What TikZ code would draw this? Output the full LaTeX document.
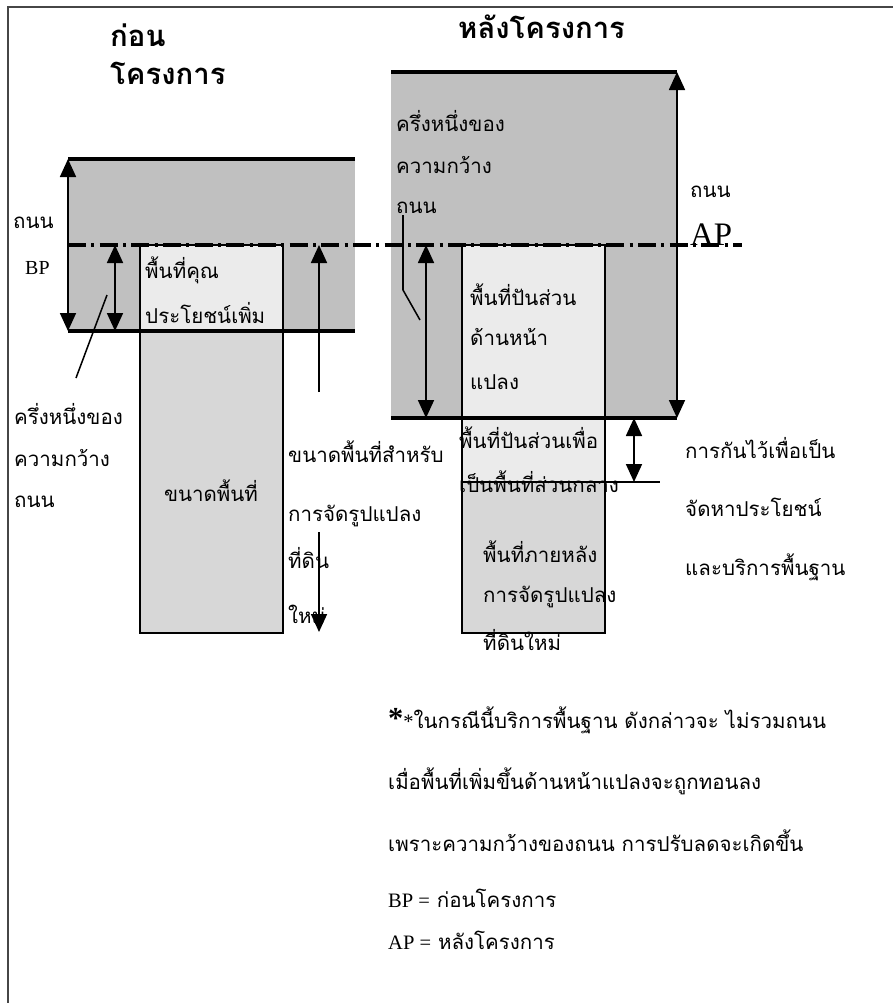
\documentclass[tikz,border=0pt]{standalone}
\usepackage{fontspec}
\setmainfont{Liberation Serif}
\newfontfamily\thaifont[Script=Thai]{Loma}
\usetikzlibrary{arrows.meta}
\usetikzlibrary{positioning}
\definecolor{roadgray}{RGB}{192,192,192}
\definecolor{parcellight}{RGB}{235,235,235}
\definecolor{parcelmid}{RGB}{215,215,215}
\definecolor{framegray}{RGB}{70,70,70}

\begin{document}
\begin{tikzpicture}[x=0.03cm,y=-0.03cm,
    road/.style={fill=roadgray},
    parcel/.style={draw=black,line width=1.2pt},
    edge/.style={line width=2.6pt},
    axisline/.style={line width=2.8pt,dash pattern=on 5.4mm off 1.6mm on 0.9mm off 1.6mm},
    dim/.style={line width=1.5pt,{Triangle[length=5.4mm,width=4.8mm]}-{Triangle[length=5.4mm,width=4.8mm]}},
    ptr/.style={line width=1.5pt,-{Triangle[length=5.4mm,width=4.8mm]}},
    lead/.style={line width=1.3pt},
    txt/.style={font=\thaifont\fontsize{17.5}{20}\selectfont,anchor=west,inner sep=0pt},
    head/.style={font=\thaifont\bfseries\fontsize{25}{28}\selectfont,anchor=west,inner sep=0pt}]
    \useasboundingbox (0,0) rectangle (893,1003);
    \draw[framegray,line width=1.5pt] (8,1003) -- (8,7) -- (893,7);

    % before the project
    \fill[road] (68,159) rectangle (355,331);
    \draw[parcel,fill=parcellight] (140,245) rectangle (283,331);
    \draw[parcel,fill=parcelmid] (140,331) rectangle (283,633);
    \draw[edge] (68,159) -- (355,159);
    \draw[edge] (68,331) -- (355,331);

    % after the project
    \fill[road] (391,72) rectangle (677,418);
    \draw[parcel,fill=parcellight] (462,245) rectangle (605,418);
    \draw[parcel,fill=parcellight] (462,418) rectangle (605,482);
    \draw[parcel,fill=parcelmid] (462,482) rectangle (605,633);
    \draw[edge] (391,72) -- (677,72);
    \draw[edge] (391,418) -- (677,418);

    % road centre line
    \coordinate (axisL) at (68,245);
    \coordinate (axisR) at (742,245);
    \draw[axisline] (axisL) -- (axisR);

    % dimension arrows
    \coordinate (bpRoadT) at (68,159);
    \coordinate (bpRoadB) at (68,331);
    \coordinate (bpHalfT) at (115,245);
    \coordinate (bpHalfB) at (115,331);
    \coordinate (bpSizeT) at (319,245);
    \coordinate (bpSizeA) at (319,392);
    \coordinate (bpSizeB) at (319,532);
    \coordinate (bpSizeE) at (319,632);
    \coordinate (bpLeadA) at (107,295);
    \coordinate (bpLeadB) at (76,378);
    \draw[dim] (bpRoadT) -- (bpRoadB);
    \draw[dim] (bpHalfT) -- (bpHalfB);
    \draw[ptr] (bpSizeA) -- (bpSizeT);
    \draw[ptr] (bpSizeB) -- (bpSizeE);
    \draw[lead] (bpLeadA) -- (bpLeadB);

    \coordinate (apRoadT) at (677,72);
    \coordinate (apRoadB) at (677,418);
    \coordinate (apHalfT) at (426,245);
    \coordinate (apHalfB) at (426,418);
    \coordinate (apCommT) at (634,418);
    \coordinate (apCommB) at (634,482);
    \coordinate (apCommS) at (462,482);
    \coordinate (apCommE) at (660,482);
    \coordinate (apLeadA) at (403,215);
    \coordinate (apLeadB) at (403,290);
    \coordinate (apLeadC) at (420,320);
    \draw[dim] (apRoadT) -- (apRoadB);
    \draw[dim] (apHalfT) -- (apHalfB);
    \draw[dim] (apCommT) -- (apCommB);
    \draw[line width=1.3pt] (apCommS) -- (apCommE);
    \draw[lead] (apLeadA) -- (apLeadB) -- (apLeadC);

    % headings
    \node[head] (bpHead1) at (110,35) {ก่อน};
    \node[head] (bpHead2) at (110,73) {โครงการ};
    \node[head] (apHead) at (458,27) {หลังโครงการ};

    % labels, before
    \node[txt] (bpRoad) at (13,223) {ถนน};
    \node[anchor=west,inner sep=0pt,font=\fontsize{17}{20}\selectfont] (bpTag) at (25,268) {BP};
    \node[txt] (bpHalf1) at (14,414) {ครึ่งหนึ่งของ};
    \node[txt] (bpHalf2) at (14,458) {ความกว้าง};
    \node[txt] (bpHalf3) at (14,502) {ถนน};
    \node[txt] (bpGain1) at (145,270) {พื้นที่คุณ};
    \node[txt] (bpGain2) at (145,313) {ประโยชน์เพิ่ม};
    \node[txt,anchor=center] (bpSize) at (211,491) {ขนาดพื้นที่};
    \node[txt] (bpNew1) at (288,452) {ขนาดพื้นที่สำหรับ};
    \node[txt] (bpNew2) at (288,516) {การจัดรูปแปลง};
    \node[txt] (bpNew3) at (288,558) {ที่ดิน};
    \node[txt] (bpNew4) at (288,614) {ใหม่};

    % labels, after
    \node[txt] (apHalf1) at (396,121) {ครึ่งหนึ่งของ};
    \node[txt] (apHalf2) at (396,165) {ความกว้าง};
    \node[txt] (apHalf3) at (396,208) {ถนน};
    \node[txt] (apRoad) at (690,192) {ถนน};
    \node[anchor=base west,inner sep=0pt,font=\fontsize{28}{32}\selectfont] (apTag) at (690,245) {AP};
    \node[txt] (apFront1) at (470,295) {พื้นที่ปันส่วน};
    \node[txt] (apFront2) at (470,337) {ด้านหน้า};
    \node[txt] (apFront3) at (470,382) {แปลง};
    \node[txt] (apComm1) at (459,438) {พื้นที่ปันส่วนเพื่อ};
    \node[txt] (apComm2) at (459,482) {เป็นพื้นที่ส่วนกลาง};
    \node[txt] (apNew1) at (483,552) {พื้นที่ภายหลัง};
    \node[txt] (apNew2) at (483,597) {การจัดรูปแปลง};
    \node[txt] (apNew3) at (483,640) {ที่ดินใหม่};
    \node[txt] (apKeep1) at (685,448) {การกันไว้เพื่อเป็น};
    \node[txt] (apKeep2) at (685,507) {จัดหาประโยชน์};
    \node[txt] (apKeep3) at (685,567) {และบริการพื้นฐาน};

    % notes
    \node[txt] (note1) at (388,720) {{\rmfamily\bfseries\fontsize{26}{26}\selectfont *}{\rmfamily *}ในกรณีนี้บริการพื้นฐาน ดังกล่าวจะ ไม่รวมถนน};
    \node[txt] (note2) at (388,781) {เมื่อพื้นที่เพิ่มขึ้นด้านหน้าแปลงจะถูกทอนลง};
    \node[txt] (note3) at (388,841) {เพราะความกว้างของถนน การปรับลดจะเกิดขึ้น};
    \node[txt] (note4) at (388,898) {{\rmfamily BP =} ก่อนโครงการ};
    \node[txt] (note5) at (388,940) {{\rmfamily AP =} หลังโครงการ};
  \end{tikzpicture}
\end{document}
